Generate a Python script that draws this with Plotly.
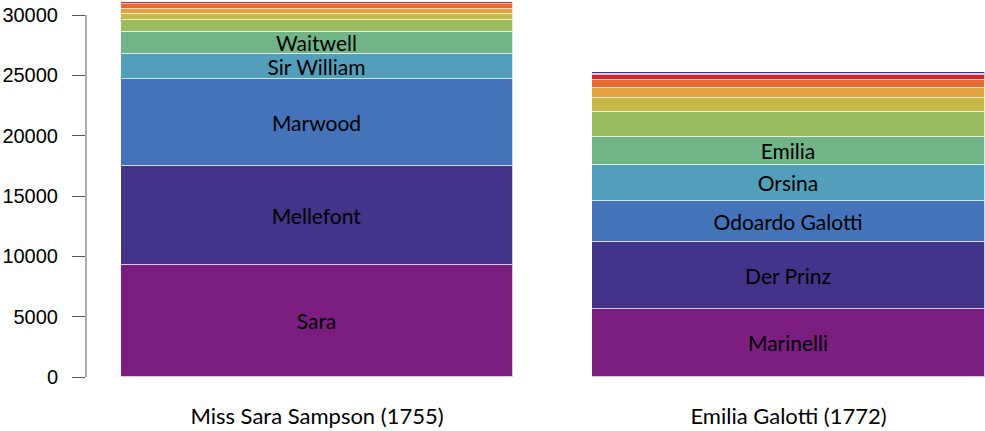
import plotly.graph_objects as go

plays = ["Miss Sara Sampson (1755)", "Emilia Galotti (1772)"]

# Words spoken per character, ordered by rank (bottom to top)
sara_values = [9285, 8200, 7250, 2056, 1823, 970, 497, 456, 350, 190]
sara_labels = ["Sara", "Mellefont", "Marwood", "Sir William", "Waitwell", "", "", "", "", ""]

emilia_values = [5635, 5577, 3398, 2958, 2346, 2088, 1160, 787, 663, 390, 133, 140]
emilia_labels = ["Marinelli", "Der Prinz", "Odoardo Galotti", "Orsina", "Emilia",
                 "", "", "", "", "", "", ""]

palette = ["#7A1D7F", "#433389", "#4473BA", "#519FBB", "#70B487",
           "#9BBD5F", "#C6BA46", "#E2A23E", "#E76A30", "#DA2424"]

y_ticks = [0, 5000, 10000, 15000, 20000, 25000, 30000]
y_tick_labels = ["0", "5000", "10000", "15000", "20000", "25000", "30000"]

fig = go.Figure()
n = max(len(sara_values), len(emilia_values))
for i in range(n):
    vals = [sara_values[i] if i < len(sara_values) else 0,
            emilia_values[i] if i < len(emilia_values) else 0]
    labs = [sara_labels[i] if i < len(sara_labels) else "",
            emilia_labels[i] if i < len(emilia_labels) else ""]
    fig.add_trace(go.Bar(
        x=[0, 1], y=vals, text=labs,
        width=0.8316,
        marker=dict(color=palette[i % len(palette)],
                    line=dict(color="rgba(255,255,255,0.75)", width=1)),
        textposition="inside", insidetextanchor="middle", textangle=0,
        constraintext="none",
        textfont=dict(family="Lato, sans-serif", size=21, color="black"),
        hoverinfo="skip", showlegend=False,
    ))

fig.update_layout(
    barmode="stack",
    width=985, height=431,
    margin=dict(l=86, r=0, t=1, b=54, autoexpand=False),
    plot_bgcolor="white", paper_bgcolor="white",
    bargap=0,
)
fig.update_xaxes(range=[-0.4899, 1.4168], tickvals=[0, 1], ticktext=plays,
                 showline=False, showgrid=False, zeroline=False, ticks="",
                 ticklabelstandoff=24, automargin=False,
                 tickfont=dict(family="Lato, sans-serif", size=22, color="black"))
fig.update_yaxes(range=[0, 31160], tickvals=y_ticks, ticktext=y_tick_labels,
                 showgrid=False, zeroline=False, automargin=False,
                 showline=False, ticks="outside", ticklen=13, tickcolor="#555555",
                 tickwidth=1, ticklabelstandoff=10,
                 tickfont=dict(family="Liberation Sans, Arial, sans-serif", size=20, color="black"))
fig.add_shape(type="line", xref="paper", yref="y", x0=0, x1=0, y0=0, y1=30000,
              line=dict(color="#555555", width=1))

fig.write_html("out.html", config={"displayModeBar": False},
               post_script="document.body.style.margin='0';")
